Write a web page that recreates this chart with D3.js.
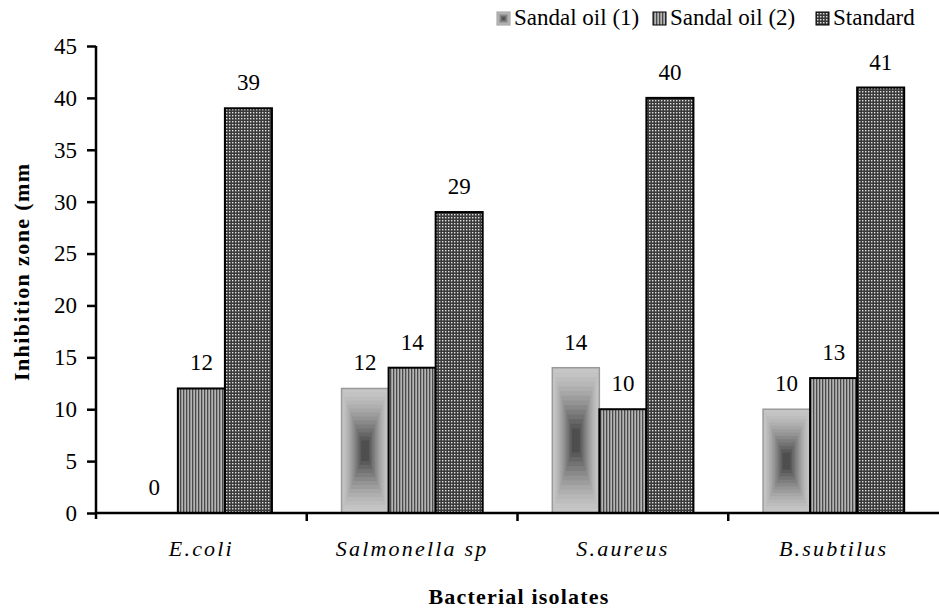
<!DOCTYPE html>
<html><head><meta charset="utf-8">
<script src="https://cdn.jsdelivr.net/npm/d3@7"></script>
</head><body style="margin:0;background:#fff"><svg id="c" width="939" height="613" style="display:block"></svg>
<script>
const categories = ["E.coli", "Salmonella sp", "S.aureus", "B.subtilus"];
const seriesNames = ["Sandal oil (1)", "Sandal oil (2)", "Standard"];
const oil1 = [0, 12, 14, 10];
const oil2 = [12, 14, 10, 13];
const standard = [39, 29, 40, 41];
const yTicks = [0, 5, 10, 15, 20, 25, 30, 35, 40, 45];
const series = [oil1, oil2, standard];
const FF = '"Liberation Serif"';

const svg = d3.select("#c");
const defs = svg.append("defs");
const ps = defs.append("pattern").attr("id","stripes").attr("patternUnits","userSpaceOnUse").attr("width",3).attr("height",3);
ps.append("rect").attr("width",3).attr("height",3).attr("fill","#b4b4b4");
ps.append("rect").attr("width",1.3).attr("height",3).attr("fill","#4a4a4a");
const pc = defs.append("pattern").attr("id","checker").attr("patternUnits","userSpaceOnUse").attr("width",3).attr("height",3);
pc.append("rect").attr("width",3).attr("height",3).attr("fill","#3a3a3a");
pc.append("rect").attr("x",1).attr("y",1).attr("width",1.4).attr("height",1.4).attr("fill","#e0e0e0");

const x0 = 96, x1 = 939, yTop = 46, yBase = 513;
const x = d3.scaleBand().domain(categories).range([x0, x1]).paddingInner(0).paddingOuter(0);
const xs = d3.scaleBand().domain(d3.range(3)).range([0, x.bandwidth()]).paddingOuter(0.74).paddingInner(0);
const y = d3.scaleLinear().domain([0, 45]).range([yBase, yTop]);

const shade = d3.interpolateRgb("#c6c6c6", "#4e4e4e");
const g = svg.append("g");
categories.forEach((cat, ci) => {
  series.forEach((vals, si) => {
    const v = vals[ci];
    const bx = x(cat) + xs(si), bw = xs.bandwidth();
    const by = y(v), bh = yBase - by;
    if (v > 0) {
      if (si === 0) {
        const steps = 14;
        for (let k = 0; k < steps; k++) {
          const t = k / steps * 0.45;
          const tt = k / (steps - 1);
          g.append("rect").attr("x", bx + bw * t).attr("y", by + bh * t)
            .attr("width", bw * (1 - 2 * t)).attr("height", bh * (1 - 2 * t))
            .attr("fill", shade(Math.pow(tt, 1.4)));
        }
        g.append("rect").attr("x", bx).attr("y", by).attr("width", bw).attr("height", bh)
          .attr("fill", "none").attr("stroke", "#9a9a9a").attr("stroke-width", 1.5);
      } else {
        g.append("rect").attr("x", bx).attr("y", by).attr("width", bw).attr("height", bh)
          .attr("fill", si === 1 ? "url(#stripes)" : "url(#checker)")
          .attr("stroke", "#000").attr("stroke-width", 2);
      }
    }
    g.append("text").attr("x", bx + bw / 2).attr("y", by - 18).attr("text-anchor", "middle")
      .style("font-family", FF).style("font-size", "23px").text(v);
  });
});

const yAxis = d3.axisLeft(y).tickValues(yTicks).tickSize(9).tickPadding(10);
const ya = svg.append("g").attr("transform", `translate(${x0},0)`).call(yAxis);
ya.select(".domain").attr("d", `M0,${yTop}V${yBase + 6}`).attr("stroke-width", 2.5);
ya.selectAll(".tick line").attr("stroke-width", 2.5);
ya.selectAll(".tick text").style("font-size", "23px").style("font-family", FF).attr("fill", "#000");

const boundaries = categories.slice(1).map(c => x(c));
svg.append("line").attr("x1", x0).attr("x2", x1).attr("y1", yBase).attr("y2", yBase).attr("stroke", "#000").attr("stroke-width", 2.5);
boundaries.forEach(b => svg.append("line").attr("x1", b).attr("x2", b).attr("y1", yBase).attr("y2", yBase + 8).attr("stroke", "#000").attr("stroke-width", 2.5));
categories.forEach(c => svg.append("text").attr("x", x(c) + x.bandwidth() / 2).attr("y", 556)
  .attr("text-anchor", "middle").style("font-family", FF).style("font-size", "22px").style("font-style", "italic")
  .style("letter-spacing", "2.2px").text(c));

svg.append("text").attr("x", 519).attr("y", 604).attr("text-anchor", "middle").style("font-family", FF)
  .style("font-size", "22px").style("font-weight", "bold").style("letter-spacing", "1.2px").text("Bacterial isolates");
svg.append("text").attr("transform", "translate(29,381) rotate(-90)").attr("text-anchor", "start").style("font-family", FF)
  .style("font-size", "22px").style("font-weight", "bold").style("letter-spacing", "1.4px").text("Inhibition zone (mm");

const legX = [497, 653, 816];
seriesNames.forEach((n, i) => {
  const lg = svg.append("g").attr("transform", `translate(${legX[i]},12)`);
  if (i === 0) {
    for (let k = 0; k < 5; k++) {
      const t = k * 1.3;
      lg.append("rect").attr("x", t).attr("y", t).attr("width", 13 - 2 * t).attr("height", 13 - 2 * t)
        .attr("fill", shade(k / 4));
    }
    lg.append("rect").attr("width", 13).attr("height", 13).attr("fill", "none").attr("stroke", "#9a9a9a");
  } else {
    lg.append("rect").attr("width", 13).attr("height", 13).attr("fill", i === 1 ? "url(#stripes)" : "url(#checker)")
      .attr("stroke", "#000").attr("stroke-width", 1);
  }
  lg.append("text").attr("x", 17).attr("y", 13).style("font-family", FF).style("font-size", "23px").text(n);
});
</script></body></html>
